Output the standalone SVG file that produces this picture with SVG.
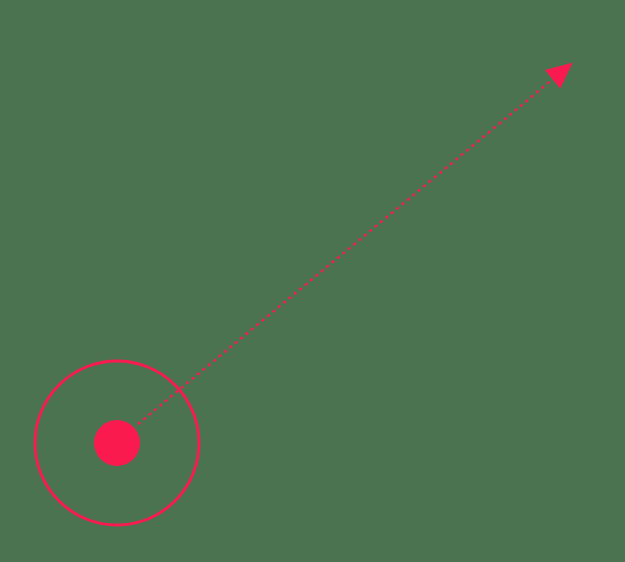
<svg xmlns="http://www.w3.org/2000/svg" width="625" height="562" viewBox="0 0 625 562">
<style>
.red{fill:#fb1a4e;stroke:#fb1a4e}
.ring{fill:none;stroke:#fb1a4e;stroke-width:2.8}
.conn{fill:none;stroke:#fb1a4e;stroke-width:2.3;stroke-dasharray:3 4}
</style>
<defs>
<marker id="arrow" viewBox="0 0 26 24" refX="24" refY="12" markerWidth="26" markerHeight="24" markerUnits="userSpaceOnUse" orient="auto">
<path d="M0,0 L26,12 L0,24 Z" fill="#fb1a4e"/>
</marker>
</defs>
<rect width="625" height="562" fill="#4b7350"/>
<g id="target">
<circle class="ring" cx="117" cy="443" r="82"/>
<circle class="red" cx="117" cy="443" r="23" stroke-width="0"/>
</g>
<g id="connectors">
<line class="conn" x1="138" y1="424" x2="571" y2="64" marker-end="url(#arrow)"/>
</g>
</svg>
